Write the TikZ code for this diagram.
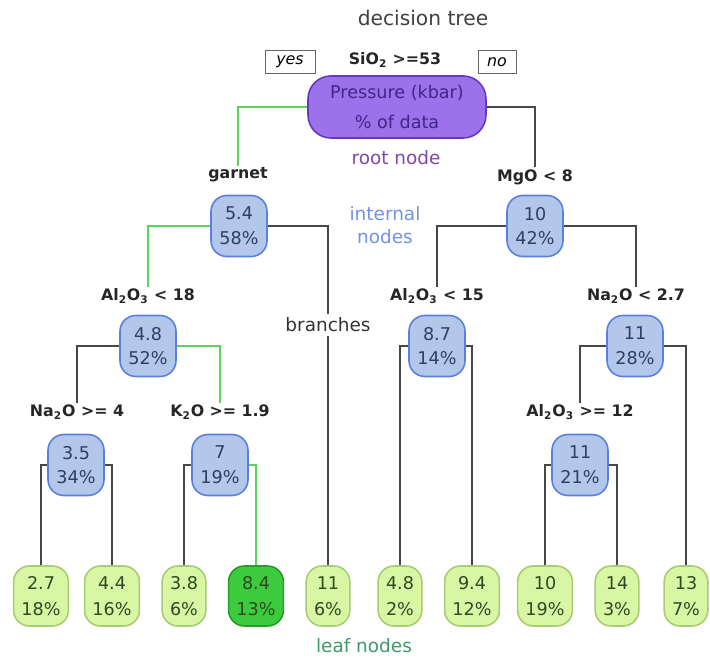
\documentclass[tikz,border=0pt]{standalone}
\usepackage{fontspec}
\setmainfont{DejaVu Sans}
\usepackage{xcolor}
\usepackage{tikz}
\usetikzlibrary{positioning}

\definecolor{rootfill}{HTML}{9C72EA}
\definecolor{rootdraw}{HTML}{6638C0}
\definecolor{rootink}{HTML}{42258A}
\definecolor{rootnote}{HTML}{8048A8}
\definecolor{intfill}{HTML}{B3C7EA}
\definecolor{intdraw}{HTML}{5A7FE0}
\definecolor{intink}{HTML}{2F3F60}
\definecolor{leaffill}{HTML}{D8F6A4}
\definecolor{leafdraw}{HTML}{A9CC72}
\definecolor{leafink}{HTML}{2E4A20}
\definecolor{leafnote}{HTML}{3E9A68}
\definecolor{topfill}{HTML}{3CCB3C}
\definecolor{topdraw}{HTML}{2A9C2A}
\definecolor{yesline}{HTML}{5CD35C}
\definecolor{noline}{HTML}{474747}

\begin{document}
\begin{tikzpicture}[x=0.02cm,y=-0.02cm,
  inner/.style={draw=intdraw,fill=intfill,text=intink,line width=0.9pt,rounded corners=9pt,
    minimum width=1.12cm,minimum height=1.22cm,inner sep=1pt,align=center,
    font=\fontsize{10}{14}\selectfont},
  leaf/.style={draw=leafdraw,fill=leaffill,text=leafink,line width=0.9pt,rounded corners=9pt,
    minimum height=1.2cm,inner xsep=4.5pt,inner ysep=1pt,align=center,
    font=\fontsize{10}{14.5}\selectfont},
  split/.style={font=\fontsize{9}{11}\selectfont\bfseries,text=black!85,inner sep=1pt},
  note/.style={font=\fontsize{10.5}{13}\selectfont,align=center},
  tag/.style={draw=black!60,line width=0.4pt,font=\fontsize{9}{11}\selectfont\itshape,
    minimum height=0.46cm,inner sep=2pt},
  yesedge/.style={draw=yesline,line width=0.8pt},
  noedge/.style={draw=noline,line width=0.8pt}]
  \useasboundingbox[fill=white] (0,0) rectangle (710,658);

  % title and root
  \node[note,font=\fontsize{11.5}{14}\selectfont,text=black!75] (title) at (423,18) {decision tree};
  \node[tag,minimum width=1cm] (yes) at (290,62) {yes};
  \node[tag,minimum width=0.76cm] (no) at (497,62) {no};
  \node[split] (ssio) at (395,60) {SiO\textsubscript{2} >=53};
  \node[draw=rootdraw,fill=rootfill,text=rootink,line width=0.9pt,rounded corners=13pt,
    minimum width=3.56cm,minimum height=1.24cm,align=center,
    font=\fontsize{10}{17}\selectfont] (root) at (397,107) {Pressure (kbar)\\\% of data};
  \node[note,text=rootnote] (lroot) at (396,158) {root node};

  % split labels
  \node[split] (sgar) at (238,175) {garnet};
  \node[split] (smgo) at (535,177) {MgO < 8};
  \node[split] (sal18) at (148,296) {Al\textsubscript{2}O\textsubscript{3} < 18};
  \node[split] (sal15) at (437,296) {Al\textsubscript{2}O\textsubscript{3} < 15};
  \node[split] (sna27) at (636,296) {Na\textsubscript{2}O < 2.7};
  \node[split] (sna4) at (77,412) {Na\textsubscript{2}O >= 4};
  \node[split] (sk2o) at (220,412) {K\textsubscript{2}O >= 1.9};
  \node[split] (sal12) at (580,412) {Al\textsubscript{2}O\textsubscript{3} >= 12};

  % internal nodes
  \node[inner] (n2) at (239,226) {5.4\\58\%};
  \node[inner] (n3) at (535,226) {10\\42\%};
  \node[inner] (n4) at (148,346) {4.8\\52\%};
  \node[inner] (n6) at (437,346) {8.7\\14\%};
  \node[inner] (n7) at (635,346) {11\\28\%};
  \node[inner] (n8) at (76,465) {3.5\\34\%};
  \node[inner] (n9) at (220,465) {7\\19\%};
  \node[inner] (n14) at (580,465) {11\\21\%};
  \node[note,text=intdraw!85] (lint) at (385,225) {internal\\nodes};

  % leaves
  \node[leaf] (l1) at (41,596) {2.7\\18\%};
  \node[leaf] (l2) at (112,596) {4.4\\16\%};
  \node[leaf] (l3) at (184,596) {3.8\\6\%};
  \node[leaf,draw=topdraw,fill=topfill,text=leafink] (l4) at (256,596) {8.4\\13\%};
  \node[leaf] (l5) at (328,596) {11\\6\%};
  \node[leaf] (l6) at (400,596) {4.8\\2\%};
  \node[leaf] (l7) at (472,596) {9.4\\12\%};
  \node[leaf] (l8) at (545,596) {10\\19\%};
  \node[leaf] (l9) at (617,596) {14\\3\%};
  \node[leaf] (l10) at (686,596) {13\\7\%};
  \node[note,text=leafnote] (lleaf) at (364,646) {leaf nodes};

  % branches
  \draw[yesedge] (root.west) -| (sgar.north);
  \draw[noedge] (root.east) -| (smgo.north);
  \draw[yesedge] (n2.west) -| (sal18.north);
  \draw[noedge] (n2.east) -| (l5.north);
  \draw[noedge] (n3.west) -| (sal15.north);
  \draw[noedge] (n3.east) -| (sna27.north);
  \draw[noedge] (n4.west) -| (sna4.north);
  \draw[yesedge] (n4.east) -| (sk2o.north);
  \draw[noedge] (n6.west) -| (l6.north);
  \draw[noedge] (n6.east) -| (l7.north);
  \draw[noedge] (n7.west) -| (sal12.north);
  \draw[noedge] (n7.east) -| (l10.north);
  \draw[noedge] (n8.west) -| (l1.north);
  \draw[noedge] (n8.east) -| (l2.north);
  \draw[noedge] (n9.west) -| (l3.north);
  \draw[yesedge] (n9.east) -| (l4.north);
  \draw[noedge] (n14.west) -| (l8.north);
  \draw[noedge] (n14.east) -| (l9.north);
  \node[note,fill=white,inner sep=2pt,text=black!80] (lbr) at (328,325) {branches};
\end{tikzpicture}
\end{document}
